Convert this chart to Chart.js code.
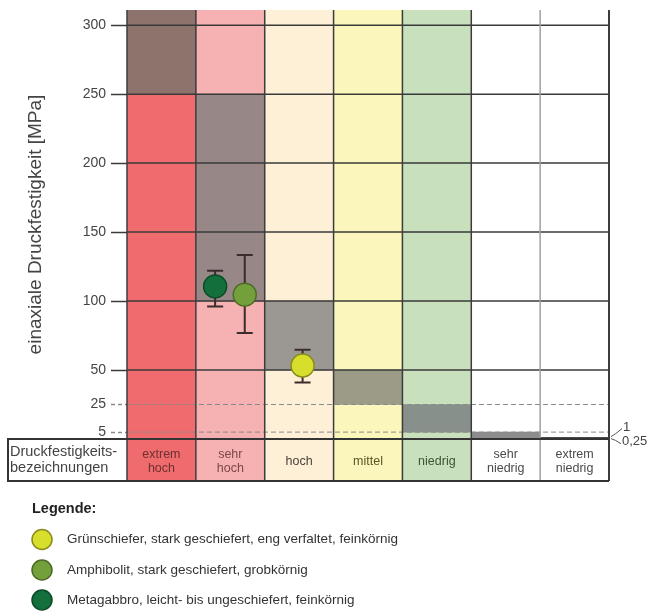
<!DOCTYPE html>
<html>
<head>
<meta charset="utf-8">
<script src="https://cdn.jsdelivr.net/npm/chart.js@4.4.0/dist/chart.umd.min.js"></script>
<style>
  body { margin: 0; background: #fff; }
  #wrap { width: 651px; height: 612px; }
</style>
</head>
<body>
<div id="wrap"><canvas id="chart"></canvas></div>
<script>
// ---- data ----
const categories = [["extrem", "hoch"], ["sehr", "hoch"], "hoch", "mittel", "niedrig", ["sehr", "niedrig"], ["extrem", "niedrig"]];
const catX = [0.5, 1.5, 2.5, 3.5, 4.5, 5.5, 6.5];
const yMax = 311;
const yTicks = [5, 25, 50, 100, 150, 200, 250, 300];
const classLow = [250, 100, 50, 25, 5, 1, 0.25];
const classHigh = [311, 250, 100, 50, 25, 5, 1];

const rocks = [
    "Grünschiefer, stark geschiefert, eng verfaltet, feinkörnig",
    "Amphibolit, stark geschiefert, grobkörnig",
    "Metagabbro, leicht- bis ungeschiefert, feinkörnig"
];
const rockX = [2.55, 1.71, 1.28];
const rockMean = [53.3, 104.6, 110.6];
const rockMin = [41, 76.8, 96];
const rockMax = [64.7, 133.4, 122];

// ---- styles ----
const FONT = "'Liberation Sans', Arial, sans-serif";
const colBg = ["#ef6b6d", "#f6b2b2", "#fdf0d6", "#fbf6bb", "#c9e0bd", "#ffffff", "#ffffff"];
const colGray = ["#8e736d", "#978787", "#9b9893", "#9b9b87", "#87908a", "#8c8c8c", "#111111"];
const labelColors = ["#6e3030", "#7d4848", "#4a4238", "#5a5428", "#3a5434", "#4a4a4a", "#4a4a4a"];
const rockColors = ["#d8de2c", "#74a03c", "#13703c"];
const rockBorders = ["#8a8c1a", "#4c6a26", "#0b4a26"];
const TABLE_H = 42;

const decorPlugin = {
    id: "decor",
    beforeDraw(chart) {
        const {ctx, chartArea: a, scales: {x}} = chart;
        ctx.save();
        colBg.forEach((c, i) => {
            const l = x.getPixelForValue(i), r = x.getPixelForValue(i + 1);
            ctx.fillStyle = c;
            ctx.fillRect(l, a.bottom, r - l, TABLE_H);
        });
        ctx.restore();
    },
    afterDatasetDraw(chart, args) {
        if (args.index !== 1) return;
        const {ctx, chartArea: a, scales: {x, y}} = chart;
        ctx.save();
        // horizontal lines
        yTicks.forEach(v => {
            const py = y.getPixelForValue(v);
            ctx.beginPath();
            if (v < 50) {
                ctx.setLineDash([5, 3]);
                ctx.strokeStyle = "#8a8a8a";
                ctx.lineWidth = 1;
            } else {
                ctx.setLineDash([]);
                ctx.strokeStyle = "#3a3a3a";
                ctx.lineWidth = 1.5;
            }
            ctx.moveTo(a.left, py);
            ctx.lineTo(a.right, py);
            ctx.stroke();
        });
        ctx.setLineDash([]);
        // vertical column lines
        for (let i = 0; i <= 7; i++) {
            const px = x.getPixelForValue(i);
            ctx.beginPath();
            ctx.strokeStyle = i === 6 ? "#a0a0a0" : "#3c3c3c";
            ctx.lineWidth = i === 7 ? 2 : 1.5;
            ctx.moveTo(px, a.top);
            ctx.lineTo(px, a.bottom + TABLE_H);
            ctx.stroke();
        }
        // table frame
        ctx.strokeStyle = "#333";
        ctx.lineWidth = 2;
        ctx.beginPath();
        ctx.moveTo(7, a.bottom);
        ctx.lineTo(a.right, a.bottom);
        ctx.moveTo(7, a.bottom + TABLE_H);
        ctx.lineTo(a.right, a.bottom + TABLE_H);
        ctx.moveTo(8, a.bottom);
        ctx.lineTo(8, a.bottom + TABLE_H);
        ctx.stroke();
        ctx.restore();
    },
    beforeDatasetDraw(chart, args) {
        if (args.index < 2) return;
        const k = args.index - 2;
        const {ctx, scales: {x, y}} = chart;
        const px = x.getPixelForValue(rockX[k]);
        const top = y.getPixelForValue(rockMax[k]);
        const bot = y.getPixelForValue(rockMin[k]);
        ctx.save();
        ctx.strokeStyle = "#3a2c2c";
        ctx.lineWidth = 2;
        ctx.beginPath();
        ctx.moveTo(px, top);
        ctx.lineTo(px, bot);
        ctx.moveTo(px - 8, top);
        ctx.lineTo(px + 8, top);
        ctx.moveTo(px - 8, bot);
        ctx.lineTo(px + 8, bot);
        ctx.stroke();
        ctx.restore();
    },
    afterDraw(chart) {
        const {ctx, chartArea: a, scales: {y}} = chart;
        ctx.save();
        // table header cell
        ctx.fillStyle = "#444";
        ctx.font = "14.5px " + FONT;
        ctx.textAlign = "left";
        ctx.textBaseline = "middle";
        ctx.fillText("Druckfestigkeits-", 10, a.bottom + 13);
        ctx.fillText("bezeichnungen", 10, a.bottom + 29);

        // small annotations on the right
        const y1 = y.getPixelForValue(1), y025 = y.getPixelForValue(0.25);
        ctx.strokeStyle = "#555";
        ctx.lineWidth = 1;
        ctx.beginPath();
        ctx.moveTo(a.right + 2, y1 - 1);
        ctx.quadraticCurveTo(a.right + 6, y1 - 3, a.right + 13, y1 - 9);
        ctx.moveTo(a.right + 2, y025);
        ctx.quadraticCurveTo(a.right + 6, y025 + 1, a.right + 12, y025 + 5);
        ctx.stroke();
        ctx.font = "13px " + FONT;
        ctx.fillStyle = "#444";
        ctx.fillText("1", a.right + 14, y1 - 10);
        ctx.fillText("0,25", a.right + 13, y025 + 3);

        // legend
        ctx.fillStyle = "#222";
        ctx.font = "bold 14.5px " + FONT;
        ctx.fillText("Legende:", 32, 509);
        const rows = [539.5, 570, 600];
        rocks.forEach((r, i) => {
            ctx.beginPath();
            ctx.arc(42, rows[i], 10, 0, Math.PI * 2);
            ctx.fillStyle = rockColors[i];
            ctx.fill();
            ctx.lineWidth = 1.5;
            ctx.strokeStyle = rockBorders[i];
            ctx.stroke();
            ctx.fillStyle = "#333";
            ctx.font = "13.5px " + FONT;
            ctx.fillText(r, 67, rows[i]);
        });
        ctx.restore();
    }
};

const datasets = [
    {
        type: "bar",
        label: "Klasse",
        data: catX.map(v => ({x: v, y: [0, yMax]})),
        backgroundColor: colBg,
        borderWidth: 0,
        grouped: false,
        barPercentage: 1,
        categoryPercentage: 1,
        order: 10
    },
    {
        type: "bar",
        label: "Bereich",
        data: catX.map((v, i) => ({x: v, y: [classLow[i], classHigh[i]]})),
        backgroundColor: colGray,
        borderWidth: 0,
        grouped: false,
        barPercentage: 1,
        categoryPercentage: 1,
        order: 9
    }
];
rocks.forEach((r, i) => {
    datasets.push({
        type: "scatter",
        label: r,
        data: [{x: rockX[i], y: rockMean[i]}],
        backgroundColor: rockColors[i],
        borderColor: rockBorders[i],
        borderWidth: 1.5,
        pointRadius: 11.5,
        pointHoverRadius: 11.5,
        order: 3 - i
    });
});

new Chart(document.getElementById("chart"), {
    type: "bar",
    data: {datasets},
    options: {
        responsive: true,
        maintainAspectRatio: false,
        animation: false,
        layout: {autoPadding: false, padding: {top: 10, right: 42, bottom: 0, left: 0}},
        plugins: {
            legend: {display: false},
            tooltip: {enabled: false}
        },
        scales: {
            x: {
                type: "linear",
                min: 0,
                max: 7,
                offset: false,
                afterBuildTicks: axis => { axis.ticks = catX.map(v => ({value: v})); },
                afterFit: axis => { axis.height = 173; axis.paddingLeft = 0; axis.paddingRight = 0; },
                grid: {display: false, offset: false},
                border: {display: false},
                ticks: {
                    autoSkip: false,
                    maxRotation: 0,
                    padding: 8,
                    crossAlign: "center",
                    font: {family: FONT, size: 12.5, lineHeight: 1.05},
                    color: ctx => labelColors[ctx.index] || "#555",
                    callback: v => categories[Math.round(v - 0.5)]
                }
            },
            y: {
                type: "linear",
                min: 0,
                max: yMax,
                afterBuildTicks: axis => { axis.ticks = yTicks.map(v => ({value: v})); },
                afterFit: axis => { axis.width = 127; axis.paddingTop = 0; axis.paddingBottom = 0; },
                grid: {
                    drawOnChartArea: false,
                    drawTicks: true,
                    tickLength: 16,
                    tickWidth: 1.5,
                    tickColor: ctx => (ctx.tick && ctx.tick.value < 50) ? "#8a8a8a" : "#3a3a3a",
                    tickBorderDash: ctx => (ctx.tick && ctx.tick.value < 50) ? [4, 3] : []
                },
                border: {display: false},
                ticks: {
                    padding: 5,
                    color: "#444",
                    font: {family: FONT, size: 14}
                },
                title: {
                    display: true,
                    text: "einaxiale Druckfestigkeit [MPa]",
                    color: "#444",
                    font: {family: FONT, size: 19},
                    padding: {top: 24, bottom: 0}
                }
            }
        }
    },
    plugins: [decorPlugin]
});
</script>
</body>
</html>
